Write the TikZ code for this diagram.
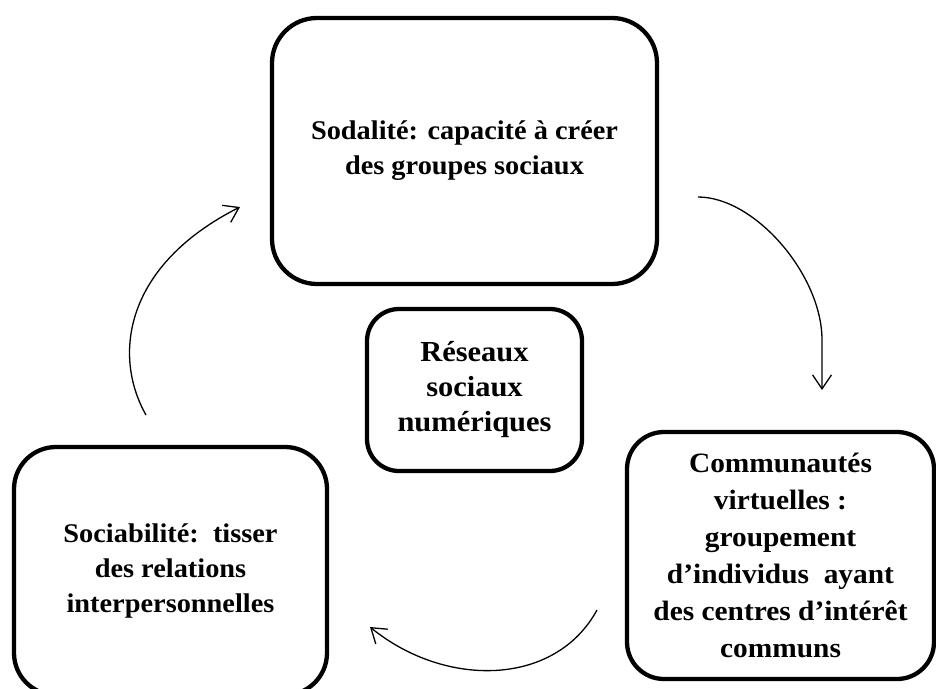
\documentclass[tikz,border=0pt]{standalone}
\usepackage{fontspec}
\setmainfont{Liberation Serif}[FakeStretch=1.05]
\usetikzlibrary{arrows.meta}

\begin{document}
\begin{tikzpicture}[x=1pt, y=-1pt,
        bloc/.style={rectangle, draw, line width=4.3pt, rounded corners=42pt, align=center,
                     font=\bfseries\fontsize{27}{35}\selectfont, inner sep=0pt},
        fleche/.style={-{Straight Barb[length=14pt,width=19pt]}, line width=1.3pt}
    ]
    \useasboundingbox (0,0) rectangle (936,688);

    % Blocs
    \node[bloc, minimum width=385pt, minimum height=266pt, rounded corners=45pt] (sodalite) at (464.5,151)
        {Sodalité: capacité à créer\\des groupes sociaux};
    \node[bloc, minimum width=215pt, minimum height=162pt, rounded corners=32pt,
          font=\bfseries\fontsize{29}{35}\selectfont] (reseaux) at (474.5,390)
        {Réseaux\\sociaux\\numériques};
    \node[bloc, minimum width=313pt, minimum height=248pt] (sociabilite) at (170.5,571)
        {Sociabilité:\ \ tisser\\des relations\\interpersonnelles};
    \node[bloc, minimum width=307pt, minimum height=247pt, rounded corners=37pt,
          font=\bfseries\fontsize{28}{37}\selectfont] (communautes) at (780.5,555.5)
        {Communautés\\virtuelles :\\groupement\\d’individus\ \ ayant\\des centres d’intérêt\\communs};

    % Points libres des fleches
    \coordinate (f1a) at (698,197);
    \coordinate (f1b) at (822,390);
    \coordinate (f2a) at (597,610);
    \coordinate (f2b) at (370,627);
    \coordinate (f3a) at (146,415);
    \coordinate (f3b) at (240,207);

    % Cycle
    \draw[fleche] (f1a) .. controls (755,197) and (822,275) .. (822,340) -- (f1b);
    \draw[fleche] (f2a) .. controls (555,687) and (445,688) .. (f2b);
    \draw[fleche] (f3a) .. controls (112,355) and (125,265) .. (f3b);

\end{tikzpicture}
\end{document}
